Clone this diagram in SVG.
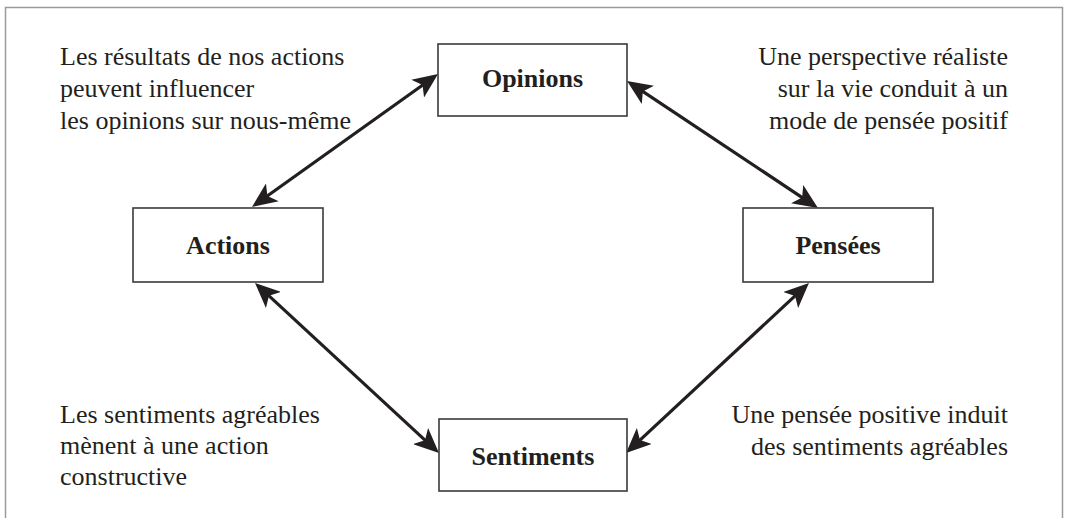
<svg xmlns="http://www.w3.org/2000/svg" width="1066" height="518" viewBox="0 0 1066 518">
<style>
.frame{fill:none;stroke:#9a9a9a;stroke-width:1.5}
.box{fill:#fff;stroke:#3a3a3a;stroke-width:1.6}
text{font-family:'Liberation Serif','Times New Roman','DejaVu Serif',serif;fill:#231f20}
.lbl{font-weight:bold;font-size:26px;text-anchor:middle}
.note{font-size:26px}
.r{text-anchor:end}
.conn{stroke:#231f20;stroke-width:3.2;fill:none;marker-start:url(#ah);marker-end:url(#ah)}
</style>
<defs>
<marker id="ah" markerUnits="userSpaceOnUse" viewBox="0 0 25 22" markerWidth="25" markerHeight="22" refX="17" refY="11" orient="auto-start-reverse">
<path d="M25,11 L0,0 L6,11 L0,22 Z" fill="#231f20"/>
</marker>
</defs>
<rect class="frame" x="5.5" y="7.5" width="1057" height="530"/>
<g id="connectors">
<line class="conn" x1="258.5" y1="202.3" x2="431.5" y2="78.7"/>
<line class="conn" x1="633.7" y1="85.4" x2="811.3" y2="203.6"/>
<line class="conn" x1="260.9" y1="288.4" x2="433.1" y2="447.6"/>
<line class="conn" x1="803.1" y1="288.4" x2="631.9" y2="447.6"/>
</g>
<g id="node-opinions">
<rect class="box" x="438" y="44" width="189" height="72"/>
<text class="lbl" x="532.5" y="87">Opinions</text>
</g>
<g id="node-actions">
<rect class="box" x="133" y="208" width="190" height="74"/>
<text class="lbl" x="228" y="254">Actions</text>
</g>
<g id="node-pensees">
<rect class="box" x="743" y="208" width="190" height="74"/>
<text class="lbl" x="838" y="254">Pensées</text>
</g>
<g id="node-sentiments">
<rect class="box" x="439" y="419" width="188" height="72"/>
<text class="lbl" x="533" y="465">Sentiments</text>
</g>
<g id="notes">
<text class="note" x="60" y="65">Les résultats de nos actions</text>
<text class="note" x="60" y="97">peuvent influencer</text>
<text class="note" x="60" y="129">les opinions sur nous-même</text>
<text class="note r" x="1008" y="65">Une perspective réaliste</text>
<text class="note r" x="1008" y="97">sur la vie conduit à un</text>
<text class="note r" x="1008" y="129">mode de pensée positif</text>
<text class="note" x="60" y="423">Les sentiments agréables</text>
<text class="note" x="60" y="454">mènent à une action</text>
<text class="note" x="60" y="485">constructive</text>
<text class="note r" x="1008" y="423">Une pensée positive induit</text>
<text class="note r" x="1008" y="455">des sentiments agréables</text>
</g>
</svg>
